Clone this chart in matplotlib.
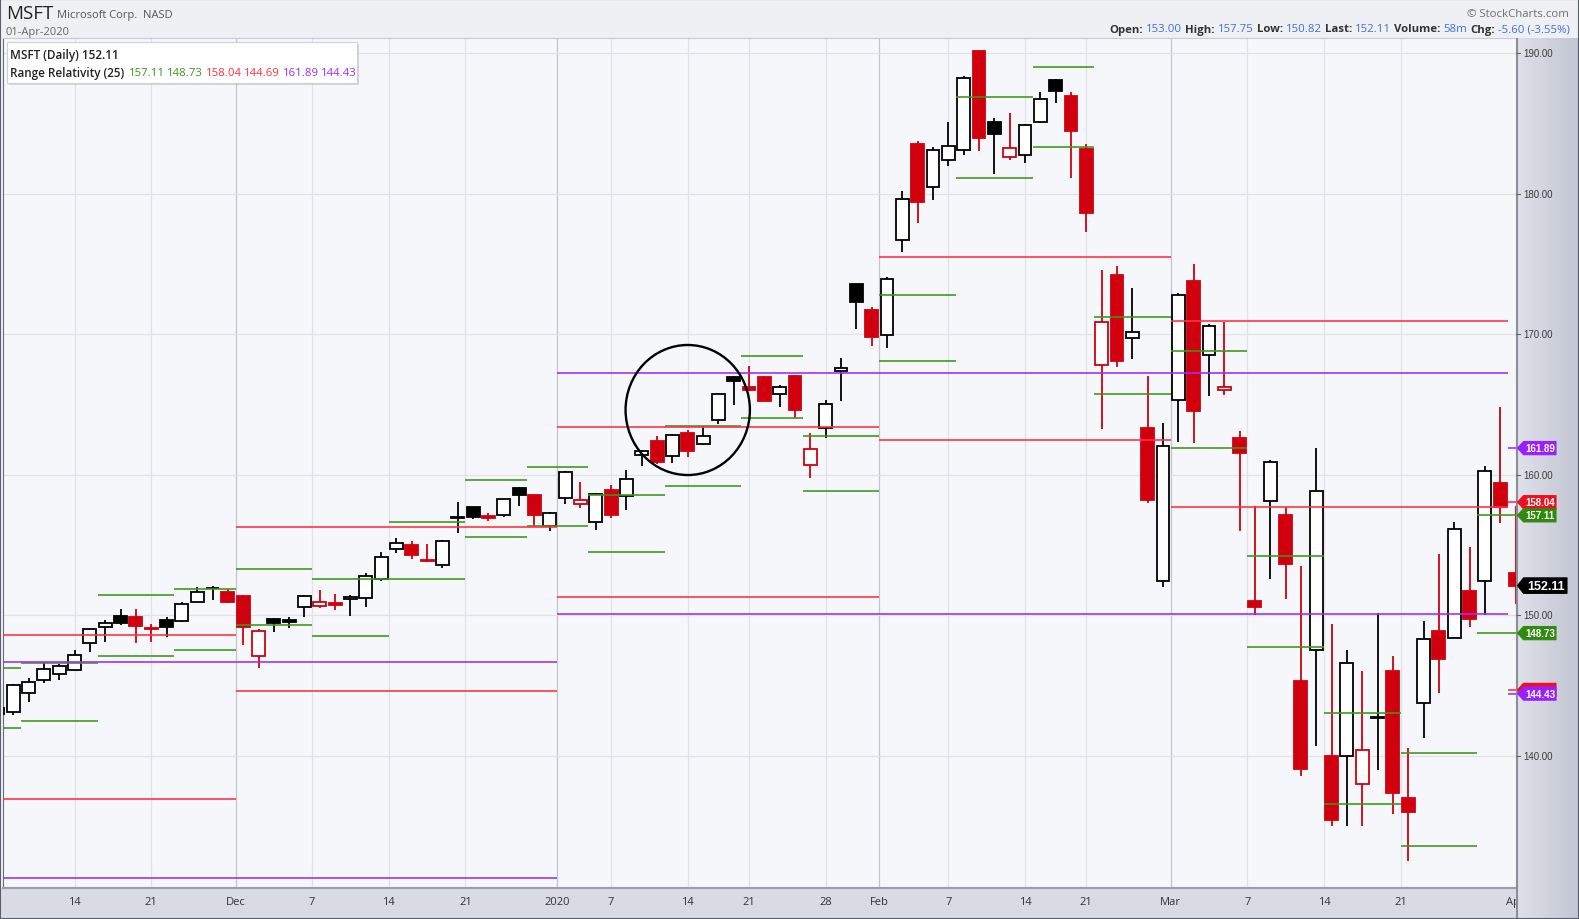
import matplotlib
matplotlib.use("Agg")
import matplotlib.pyplot as plt
from matplotlib.patches import Rectangle, Polygon, Ellipse
from matplotlib.colors import LinearSegmentedColormap
import numpy as np
import pandas as pd

W, H = 1579, 920

# trading calendar
holidays = ["2019-11-28", "2019-12-25", "2020-01-01", "2020-01-20", "2020-02-17"]
days = pd.bdate_range("2019-11-07", "2020-04-01")
days = days[~days.isin(pd.to_datetime(holidays))]

# MSFT daily (dividend adjusted)
opens = [
    142.96, 143.10, 144.45, 145.39, 145.84, 146.12, 148.02, 149.15, 149.96, 149.90,
    148.99, 149.66, 149.59, 150.95, 151.92, 151.69, 151.40, 147.09, 149.73, 149.64,
    150.58, 150.66, 150.88, 151.13, 151.24, 152.58, 154.69, 155.03, 153.88, 153.58,
    156.92, 157.69, 157.05, 157.13, 159.02, 158.56, 156.34, 158.35, 157.89, 156.65,
    158.89, 158.50, 161.40, 162.38, 161.32, 162.95, 162.18, 163.90, 166.97, 166.23,
    166.94, 165.74, 167.05, 160.71, 163.33, 167.38, 173.58, 171.74, 169.97, 176.66,
    183.53, 180.48, 182.35, 183.08, 190.13, 185.08, 182.58, 182.75, 185.11, 188.06,
    186.95, 183.17, 167.77, 174.20, 169.71, 163.32, 152.41, 165.31, 173.80, 168.49,
    166.05, 162.61, 151.00, 158.16, 157.13, 145.30, 147.50, 140.00, 140.00, 138.00,
    142.77, 146.00, 137.01, 143.75, 148.91, 148.40, 151.75, 152.44, 159.40, 153.00]
highs = [
    144.00, 145.10, 145.53, 146.67, 146.56, 147.50, 149.07, 149.63, 150.41, 150.43,
    149.39, 149.89, 150.94, 152.01, 152.09, 151.89, 151.42, 149.02, 149.77, 149.91,
    151.46, 151.80, 151.48, 151.46, 153.02, 154.47, 155.48, 155.29, 155.06, 155.35,
    158.06, 157.69, 157.28, 158.30, 159.12, 158.59, 157.34, 160.29, 159.51, 158.67,
    159.24, 160.36, 161.78, 162.78, 162.87, 163.16, 163.49, 165.79, 167.01, 167.73,
    167.03, 166.35, 167.07, 162.94, 165.31, 168.29, 173.58, 171.93, 174.03, 180.15,
    183.70, 183.32, 185.12, 188.33, 190.18, 185.34, 185.72, 184.91, 187.19, 188.18,
    187.25, 183.50, 174.55, 174.84, 173.26, 167.03, 163.71, 172.92, 175.00, 170.70,
    170.87, 163.11, 157.75, 161.03, 157.70, 153.47, 161.91, 149.35, 147.50, 146.00,
    150.15, 147.10, 140.57, 149.60, 154.33, 156.66, 154.89, 160.60, 164.78, 157.75]
lows = [
    142.89, 142.88, 143.85, 145.17, 145.39, 146.10, 147.36, 148.07, 149.28, 148.06,
    148.10, 148.42, 149.51, 150.91, 151.11, 150.87, 147.92, 146.25, 148.79, 149.07,
    149.86, 150.50, 150.35, 149.92, 150.61, 152.41, 154.40, 154.03, 153.76, 153.33,
    155.87, 156.84, 156.69, 156.97, 157.79, 156.30, 156.02, 157.90, 157.63, 156.08,
    156.89, 157.52, 160.59, 160.74, 160.82, 161.28, 162.13, 163.58, 164.98, 165.98,
    165.23, 164.82, 164.00, 159.76, 162.63, 165.24, 170.33, 169.12, 169.01, 175.83,
    177.93, 179.57, 181.98, 182.75, 183.00, 181.36, 182.37, 182.15, 185.00, 186.47,
    181.10, 177.25, 163.23, 167.65, 168.21, 157.98, 152.00, 162.31, 162.26, 165.62,
    165.69, 156.00, 150.00, 152.58, 151.15, 138.58, 140.73, 135.00, 135.00, 135.02,
    139.00, 135.86, 132.52, 141.27, 144.44, 148.37, 149.20, 150.01, 156.56, 150.82]
closes = [
    143.38, 145.07, 145.22, 146.17, 146.41, 147.16, 149.05, 149.42, 149.47, 149.21,
    149.07, 149.18, 150.82, 151.62, 151.91, 150.97, 149.14, 148.90, 149.44, 149.52,
    151.34, 150.95, 150.72, 151.29, 152.82, 154.11, 155.11, 154.27, 153.95, 155.29,
    156.98, 156.98, 156.95, 158.24, 158.53, 157.16, 157.27, 160.18, 158.19, 158.60,
    157.15, 159.66, 161.65, 160.90, 162.84, 161.69, 162.74, 165.72, 166.65, 166.05,
    165.25, 166.27, 164.59, 161.84, 165.01, 167.58, 172.31, 169.77, 173.91, 179.63,
    179.41, 183.13, 183.39, 188.19, 183.94, 184.21, 183.21, 184.85, 186.72, 187.28,
    184.42, 178.59, 170.89, 168.07, 170.17, 158.18, 162.01, 172.79, 164.51, 170.55,
    166.27, 161.57, 150.62, 160.92, 153.63, 139.06, 158.83, 135.42, 146.57, 140.40,
    142.71, 137.35, 135.98, 148.34, 146.92, 156.11, 149.70, 160.23, 157.71, 152.11]
prev_close = 143.18
volume_text = "58m"

# Range Relativity (25) levels per week / month / quarter
week_hi = [146.25, 146.61, 151.42, 151.85, 153.27, 152.58, 156.61, 159.65, 160.53, 158.58, 163.44,
           168.42, 162.75, 172.78, 186.89, 188.97, 171.20, 168.78, 154.25, 143.07, 140.21, 157.11]
week_lo = [141.98, 142.50, 147.11, 147.53, 149.33, 148.55, 152.56, 155.55, 156.38, 154.53, 159.20,
           164.06, 158.84, 168.06, 181.09, 183.30, 165.77, 161.90, 147.77, 136.56, 133.59, 148.73]
month_hi = [148.58, 156.31, 163.37, 175.50, 170.92, 158.04]
month_lo = [136.93, 144.62, 151.31, 162.47, 157.72, 144.69]
quarter_hi = [146.70, 167.26, 161.89]
quarter_lo = [131.32, 150.12, 144.43]

tick_dates = ["2019-11-14", "2019-11-21", "2019-12-01", "2019-12-07", "2019-12-14", "2019-12-21",
              "2020-01-01", "2020-01-07", "2020-01-14", "2020-01-21", "2020-01-28", "2020-02-01",
              "2020-02-07", "2020-02-14", "2020-02-21", "2020-03-01", "2020-03-07", "2020-03-14",
              "2020-03-21", "2020-04-01"]
tick_labels = ["14", "21", "Dec", "7", "14", "21", "2020", "7", "14", "21", "28", "Feb",
               "7", "14", "21", "Mar", "7", "14", "21", "Apr"]
month_ticks = ["Dec", "2020", "Feb", "Mar", "Apr"]
price_ticks = [140, 150, 160, 170, 180, 190]

circle_day = "2020-01-14"
circle_price = 164.6

RED = "#d0000f"
C_GREEN = "#3c961c"
C_RED = "#ff3040"
C_PURPLE = "#9a30f8"
BLUE = "#3f6fd8"
FONT = ["Open Sans", "DejaVu Sans"]


def day_pos(d):
    d = pd.Timestamp(d)
    k = days.searchsorted(d)
    if k < len(days) and days[k] == d:
        return float(k)
    return k - 0.5


def spans(keys):
    out, start = [], 0
    for k in range(1, len(keys) + 1):
        if k == len(keys) or keys[k] != keys[start]:
            out.append((start - 0.5, k - 0.5))
            start = k
    return out


# layout in pixels
PL, PR, PT, PB = 3, 1516, 39.3, 889
X0, X1 = 0.333, 99.03
Y0, Y1 = 130.6, 191.04

fig = plt.figure(figsize=(W / 100, H / 100), dpi=100, facecolor="#eef0f4")
fig.add_artist(Rectangle((0, 0), 1, (H - PB) / H, transform=fig.transFigure,
                         facecolor="#d9dbe4", edgecolor="none", zorder=-1))

ax = fig.add_axes([PL / W, 1 - PB / H, (PR - PL) / W, (PB - PT) / H])
ax.set_facecolor("#f6f7fa")
ax.set_xlim(X0, X1)
ax.set_ylim(Y0, Y1)

# grid
tick_pos = [day_pos(d) for d in tick_dates]
for p, lab in zip(tick_pos, tick_labels):
    ax.axvline(p, color="#c3c5ce" if lab in month_ticks else "#e1e2e9", lw=0.9, zorder=0)
for p in price_ticks:
    ax.axhline(p, color="#e1e2e9", lw=0.9, zorder=0)

# candles
x = np.arange(len(days))
o, h, l, c = (np.array(v) for v in (opens, highs, lows, closes))
prev = np.r_[prev_close, c[:-1]]
col = np.where(c < prev, RED, "black")
face = np.where(c < o, col, "white")
ax.vlines(x, l, h, colors=col, lw=1.3, zorder=2)
ax.bar(x, np.maximum(np.abs(c - o), 0.06), bottom=np.minimum(o, c), width=0.84,
       color=face, edgecolor=col, linewidth=1.3, zorder=3)

# indicator step lines
week_keys = list(days - pd.to_timedelta(days.weekday, unit="D"))
groups = [
    (spans(week_keys), week_hi, week_lo, C_GREEN),
    (spans(list(days.to_period("M"))), month_hi, month_lo, C_RED),
    (spans(list(days.to_period("Q"))), quarter_hi, quarter_lo, C_PURPLE),
]
for segs, his, los, colr in groups:
    for (a, b), hi, lo in zip(segs, his, los):
        ax.hlines([hi, lo], a, b, color=colr, lw=1.3, alpha=0.9, zorder=4)

# highlight circle
ax.add_patch(Ellipse((day_pos(circle_day), circle_price), 8.11, 9.25, fill=False,
                     edgecolor="black", lw=1.7, zorder=6))

ax.set_xticks(tick_pos)
ax.set_xticklabels(tick_labels, family=FONT, fontsize=8, color="#333333")
ax.tick_params(axis="x", length=0, pad=6)
ax.set_yticks([])
ax.spines["left"].set_color("#6a6d78")
ax.spines["bottom"].set_color("#9a9dab")
ax.spines["bottom"].set_linewidth(1.5)
ax.spines["top"].set_color("#c9cbd3")
ax.spines["right"].set_visible(False)

# right price panel
ylo_r = Y0 - (H - PB) / (PB - PT) * (Y1 - Y0)
axr = fig.add_axes([PR / W, 0, (W - PR) / W, 1 - PT / H])
axr.set_xlim(0, W - PR)
axr.set_ylim(ylo_r, Y1)
axr.axis("off")
grad = LinearSegmentedColormap.from_list("panel", ["#dfe1e9", "#c2c6d2"])
axr.imshow(np.linspace(0, 1, 64)[None, :], cmap=grad, extent=(0, W - PR, ylo_r, Y1),
           aspect="auto", zorder=0)
axr.axvline(0.8, color="#8a8e9a", lw=1.5, zorder=1)
for p in price_ticks:
    axr.plot([0, 4], [p, p], color="#666666", lw=0.8, zorder=1)
    axr.text(7, p, f"{p:.2f}", family=["Liberation Sans", "DejaVu Sans"], fontsize=7,
             color="#3a3a3a", va="center", ha="left", zorder=2)

tag_z = [3]


def tag(val, colr, right=40, half=0.47, size=7, label=True):
    z = tag_z[0]
    tag_z[0] += 2
    pts = [(1.5, val), (7.5, val + half), (right, val + half), (right, val - half), (7.5, val - half)]
    axr.add_patch(Polygon(pts, closed=True, facecolor=colr, edgecolor=colr, lw=0.8,
                          joinstyle="round", zorder=z))
    if label:
        axr.text((7.5 + right) / 2 + 0.5, val, f"{val:.2f}", color="white", fontsize=size,
                 weight="bold", family=["Liberation Sans", "DejaVu Sans"],
                 ha="center", va="center", zorder=z + 1)


tag(quarter_hi[-1], "#9b1ffc")
tag(month_hi[-1], "#ec1020")
tag(week_hi[-1], "#2f8a0e")
tag(closes[-1], "black", right=51, half=0.55, size=9)
tag(week_lo[-1], "#2f8a0e")
# monthly low tag sits behind the quarterly one, only its edge shows
tag(month_lo[-1], "#ec1020", label=False)
tag(quarter_lo[-1], "#9b1ffc")

# overlay for header and legend (pixel coords)
ov = fig.add_axes([0, 0, 1, 1], zorder=20)
ov.set_xlim(0, W)
ov.set_ylim(H, 0)
ov.axis("off")
ov.patch.set_visible(False)


def chain(pieces, x0, y0, right=False, gap=2.2):
    # pieces: (text, colour, weight, size[, gap before this piece])
    first = pieces[-1] if right else pieces[0]
    rest = pieces[-2::-1] if right else pieces[1:]
    t = ov.text(x0, y0, first[0], color=first[1], weight=first[2], fontsize=first[3],
                family=FONT, ha="right" if right else "left", va="center")
    for piece in rest:
        s, colr, wgt, size = piece[:4]
        g = piece[4] if len(piece) > 4 else gap
        t = ov.annotate(s, xy=(0, 0) if right else (1, 0), xycoords=t,
                        xytext=(-g if right else g, 0), textcoords="offset points",
                        color=colr, weight=wgt, fontsize=size, family=FONT,
                        ha="right" if right else "left", va="bottom")


ov.text(6, 14, "MSFT", fontsize=13.5, family=FONT, color="#222222", va="center")
ov.text(57, 15.5, "Microsoft Corp.  NASD", fontsize=8, family=FONT, color="#555555", va="center")
ov.text(6, 32, days[-1].strftime("%d-%b-%Y"), fontsize=8, family=FONT, color="#666666", va="center")
ov.text(1569, 14.5, "\u00a9 StockCharts.com", fontsize=8.2, family=FONT, color="#707070",
        ha="right", va="center")

chg = closes[-1] - closes[-2]
pct = chg / closes[-2] * 100
hs = 8.2
chain([("Open:", "#333333", "bold", hs), (f"{opens[-1]:.2f}", BLUE, "normal", hs),
       ("High:", "#333333", "bold", hs), (f"{highs[-1]:.2f}", BLUE, "normal", hs),
       ("Low:", "#333333", "bold", hs), (f"{lows[-1]:.2f}", BLUE, "normal", hs),
       ("Last:", "#333333", "bold", hs), (f"{closes[-1]:.2f}", BLUE, "normal", hs),
       ("Volume:", "#333333", "bold", hs), (volume_text, BLUE, "normal", hs),
       ("Chg:", "#333333", "bold", hs), (f"{chg:.2f} ({pct:.2f}%)", BLUE, "normal", hs)],
      1570, 30, right=True)

# legend box
ov.add_patch(Rectangle((9, 45), 350, 41, facecolor="#00000022", edgecolor="none", zorder=1))
ov.add_patch(Rectangle((7, 43), 350, 41, facecolor="white", edgecolor="#cfd0d6", lw=0.8, zorder=2))
ov.text(9.5, 55, f"MSFT (Daily) {closes[-1]:.2f}", fontsize=8.5, weight="semibold",
        family=FONT, color="#222222", va="center", zorder=3)
ls = 8.2
chain([("Range Relativity (25)", "#222222", "semibold", 8.4),
       (f"{week_hi[-1]:.2f}", C_GREEN, "normal", ls, 3.6),
       (f"{week_lo[-1]:.2f}", C_GREEN, "normal", ls),
       (f"{month_hi[-1]:.2f}", C_RED, "normal", ls), (f"{month_lo[-1]:.2f}", C_RED, "normal", ls),
       (f"{quarter_hi[-1]:.2f}", C_PURPLE, "normal", ls),
       (f"{quarter_lo[-1]:.2f}", C_PURPLE, "normal", ls)], 9.5, 73, gap=1.8)

# outer frame
fig.add_artist(Rectangle((0, 0), 1, 1, transform=fig.transFigure, fill=False,
                         edgecolor="#5a5e6a", lw=1.5, zorder=30))

fig.savefig("out.png", dpi=100, facecolor=fig.get_facecolor())
